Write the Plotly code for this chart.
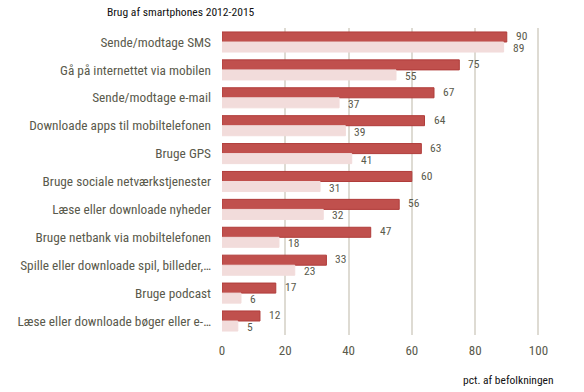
import plotly.graph_objects as go

categories = [
    "Sende/modtage SMS",
    "Gå på internettet via mobilen",
    "Sende/modtage e-mail",
    "Downloade apps til mobiltelefonen",
    "Bruge GPS",
    "Bruge sociale netværkstjenester",
    "Læse eller downloade nyheder",
    "Bruge netbank via mobiltelefonen",
    "Spille eller downloade spil, billeder,…",
    "Bruge podcast",
    "Læse eller downloade bøger eller e-…",
]
values_2015 = [90, 75, 67, 64, 63, 60, 56, 47, 33, 17, 12]
values_2012 = [89, 55, 37, 39, 41, 31, 32, 18, 23, 6, 5]
x_ticks = [0, 20, 40, 60, 80, 100]

FONT = "Liberation Sans Narrow, Arial Narrow, Roboto Condensed, Roboto, sans-serif"
TXT = "#5a5a4c"

fig = go.Figure()
fig.add_trace(go.Bar(
    y=categories, x=values_2015, orientation="h", name="2015",
    marker=dict(color="#C0504D", line=dict(color="#B03C3A", width=1)),
))
fig.add_trace(go.Bar(
    y=categories, x=values_2012, orientation="h", name="2012",
    marker=dict(color="#F2DCDB", line=dict(color="#F2DCDB", width=1)),
))

annotations = []
for cat, v in zip(categories, values_2015):
    annotations.append(dict(x=v, y=cat, xref="x", yref="y", text=str(v), showarrow=False,
                            xanchor="left", xshift=8, yshift=6, borderpad=0,
                            font=dict(family=FONT, size=11.5, color=TXT)))
for cat, v in zip(categories, values_2012):
    annotations.append(dict(x=v, y=cat, xref="x", yref="y", text=str(v), showarrow=False,
                            xanchor="left", xshift=8, yshift=-6, borderpad=0,
                            font=dict(family=FONT, size=11.5, color=TXT)))

annotations.append(dict(text="Brug af smartphones 2012-2015", xref="paper", yref="paper",
                        x=-0.368, y=1.0, yshift=16, xanchor="left", yanchor="middle",
                        showarrow=False, font=dict(family=FONT, size=11.6, color="#111111")))
annotations.append(dict(text="pct. af befolkningen", xref="paper", yref="paper",
                        x=1.05, y=0, yshift=-45, xanchor="right", yanchor="middle",
                        showarrow=False, font=dict(family=FONT, size=11.5, color="#111111")))

fig.update_layout(
    width=584, height=392,
    margin=dict(l=222, r=44, t=28, b=57, autoexpand=False),
    barmode="group", bargap=0.28, bargroupgap=0.0,
    showlegend=False,
    plot_bgcolor="white", paper_bgcolor="white",
    font=dict(family=FONT, color=TXT),
    annotations=annotations,
)
fig.update_xaxes(range=[0, 100.5], tickvals=x_ticks, showgrid=True, gridcolor="#dedbd3",
                 gridwidth=2, zeroline=False, ticks="", tickfont=dict(size=13, color=TXT),
                 ticklabelstandoff=6, automargin=False)
fig.update_yaxes(autorange="reversed", showgrid=False, ticks="", showline=False,
                 tickfont=dict(size=13.3, color=TXT), ticklabelstandoff=10, automargin=False)

fig.write_html("out.html", config={"displayModeBar": False},
               post_script="document.body.style.margin='0';")
